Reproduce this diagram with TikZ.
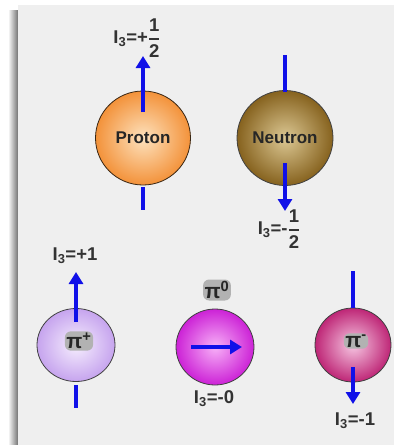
\documentclass[tikz,border=0pt]{standalone}
\usepackage{amsmath}
\usepackage{fontspec}
\setmainfont{Liberation Sans}
\usetikzlibrary{arrows.meta,shapes.geometric}
\definecolor{panel}{HTML}{EFEFEF}
\definecolor{spinblue}{HTML}{1010E8}
\definecolor{txt}{HTML}{333333}
\definecolor{pin}{HTML}{FDE2BE}\definecolor{pout}{HTML}{F3923A}
\definecolor{nin}{HTML}{DCC894}\definecolor{nout}{HTML}{86621E}
\definecolor{ppin}{HTML}{F6EEFE}\definecolor{ppout}{HTML}{C6A4EE}
\definecolor{pzin}{HTML}{F7B0F7}\definecolor{pzout}{HTML}{CC22D6}
\definecolor{pmin}{HTML}{F6C6E2}\definecolor{pmout}{HTML}{BE2676}
\newcommand{\isofrac}[1]{I$_{\text{3}}$=#1$\genfrac{}{}{1.5pt}{0}{\text{1}}{\text{2}}$}
\tikzset{
  ball/.style={ellipse, draw=black!75, line width=0.8pt, inner sep=0pt},
  spinarrow/.style={draw=spinblue, line width=3.5pt, -{Triangle[width=14pt,length=12pt]}},
  spinline/.style={draw=spinblue, line width=3.5pt},
  lbl/.style={font=\fontsize{18.5}{20}\selectfont\bfseries, text=txt, inner sep=0pt},
  pilbl/.style={font=\fontsize{21}{23}\selectfont\bfseries, fill=black!30, rounded corners=6pt, inner sep=1.5pt, text=black!85}
}
\begin{document}
\begin{tikzpicture}[x=1pt,y=-1pt]
\useasboundingbox (0,0) rectangle (394,445);
\fill[white] (0,0) rectangle (394,445);
\shade[left color=white, right color=black!55] (8,10) rectangle (18,445);
\fill[panel] (18,5) rectangle (394,445);

% nucleons
\node[ball, minimum width=95pt, minimum height=94pt, inner color=pin, outer color=pout, draw=black!70!brown, lbl, font=\fontsize{17}{19}\selectfont\bfseries, text=black!85] (p) at (143,138) {Proton};
\node[ball, minimum width=96pt, minimum height=95pt, inner color=nin, outer color=nout, lbl, font=\fontsize{17}{19}\selectfont\bfseries, text=black!85] (n) at (285,138) {Neutron};

% pions
\node[ball, minimum width=78pt, minimum height=73pt, inner color=ppin, outer color=ppout] (pp) at (76,345) {};
\node[ball, minimum width=78pt, minimum height=76pt, inner color=pzin, outer color=pzout] (p0) at (215,347) {};
\node[ball, minimum width=76pt, minimum height=74pt, inner color=pmin, outer color=pmout] (pm) at (353,345) {};

% proton spin
\coordinate (pin) at (143,112);
\coordinate (ptip) at (143,56);
\coordinate (pbot1) at (143,187);
\coordinate (pbot2) at (143,210);
\draw[spinarrow] (pin) -- (ptip);
\draw[spinline] (pbot1) -- (pbot2);
\node[lbl] (pl) at (137,38) {\isofrac{+}};

% neutron spin
\coordinate (ntop1) at (285,55);
\coordinate (ntop2) at (285,92);
\coordinate (nin) at (285,163);
\coordinate (ntip) at (285,211);
\draw[spinline] (ntop1) -- (ntop2);
\draw[spinarrow] (nin) -- (ntip);
\node[lbl] (nl) at (279,229) {\isofrac{-}};

% pi+
\coordinate (ppin) at (76,322);
\coordinate (pptip) at (76,272);
\coordinate (ppb1) at (76,385);
\coordinate (ppb2) at (76,408);
\draw[spinarrow] (ppin) -- (pptip);
\draw[spinline] (ppb1) -- (ppb2);
\node[lbl] (ppl) at (75,256) {I$_{\text{3}}$=+1};
\node[pilbl] (ppn) at (79,341) {π$^{\text{+}}$};

% pi0
\coordinate (p0a) at (191,347);
\coordinate (p0b) at (242,347);
\draw[spinarrow] (p0a) -- (p0b);
\node[pilbl] (p0n) at (217,290) {π$^{\text{0}}$};
\node[lbl] (p0l) at (214,399) {I$_{\text{3}}$=-0};

% pi-
\coordinate (pmt1) at (353,271);
\coordinate (pmt2) at (353,308);
\coordinate (pmin) at (353,367);
\coordinate (pmtip) at (353,404);
\draw[spinline] (pmt1) -- (pmt2);
\draw[spinarrow] (pmin) -- (pmtip);
\node[pilbl] (pmn) at (356,341) {π$^{\text{-}}$};
\node[lbl] (pml) at (355,421) {I$_{\text{3}}$=-1};
\end{tikzpicture}
\end{document}
